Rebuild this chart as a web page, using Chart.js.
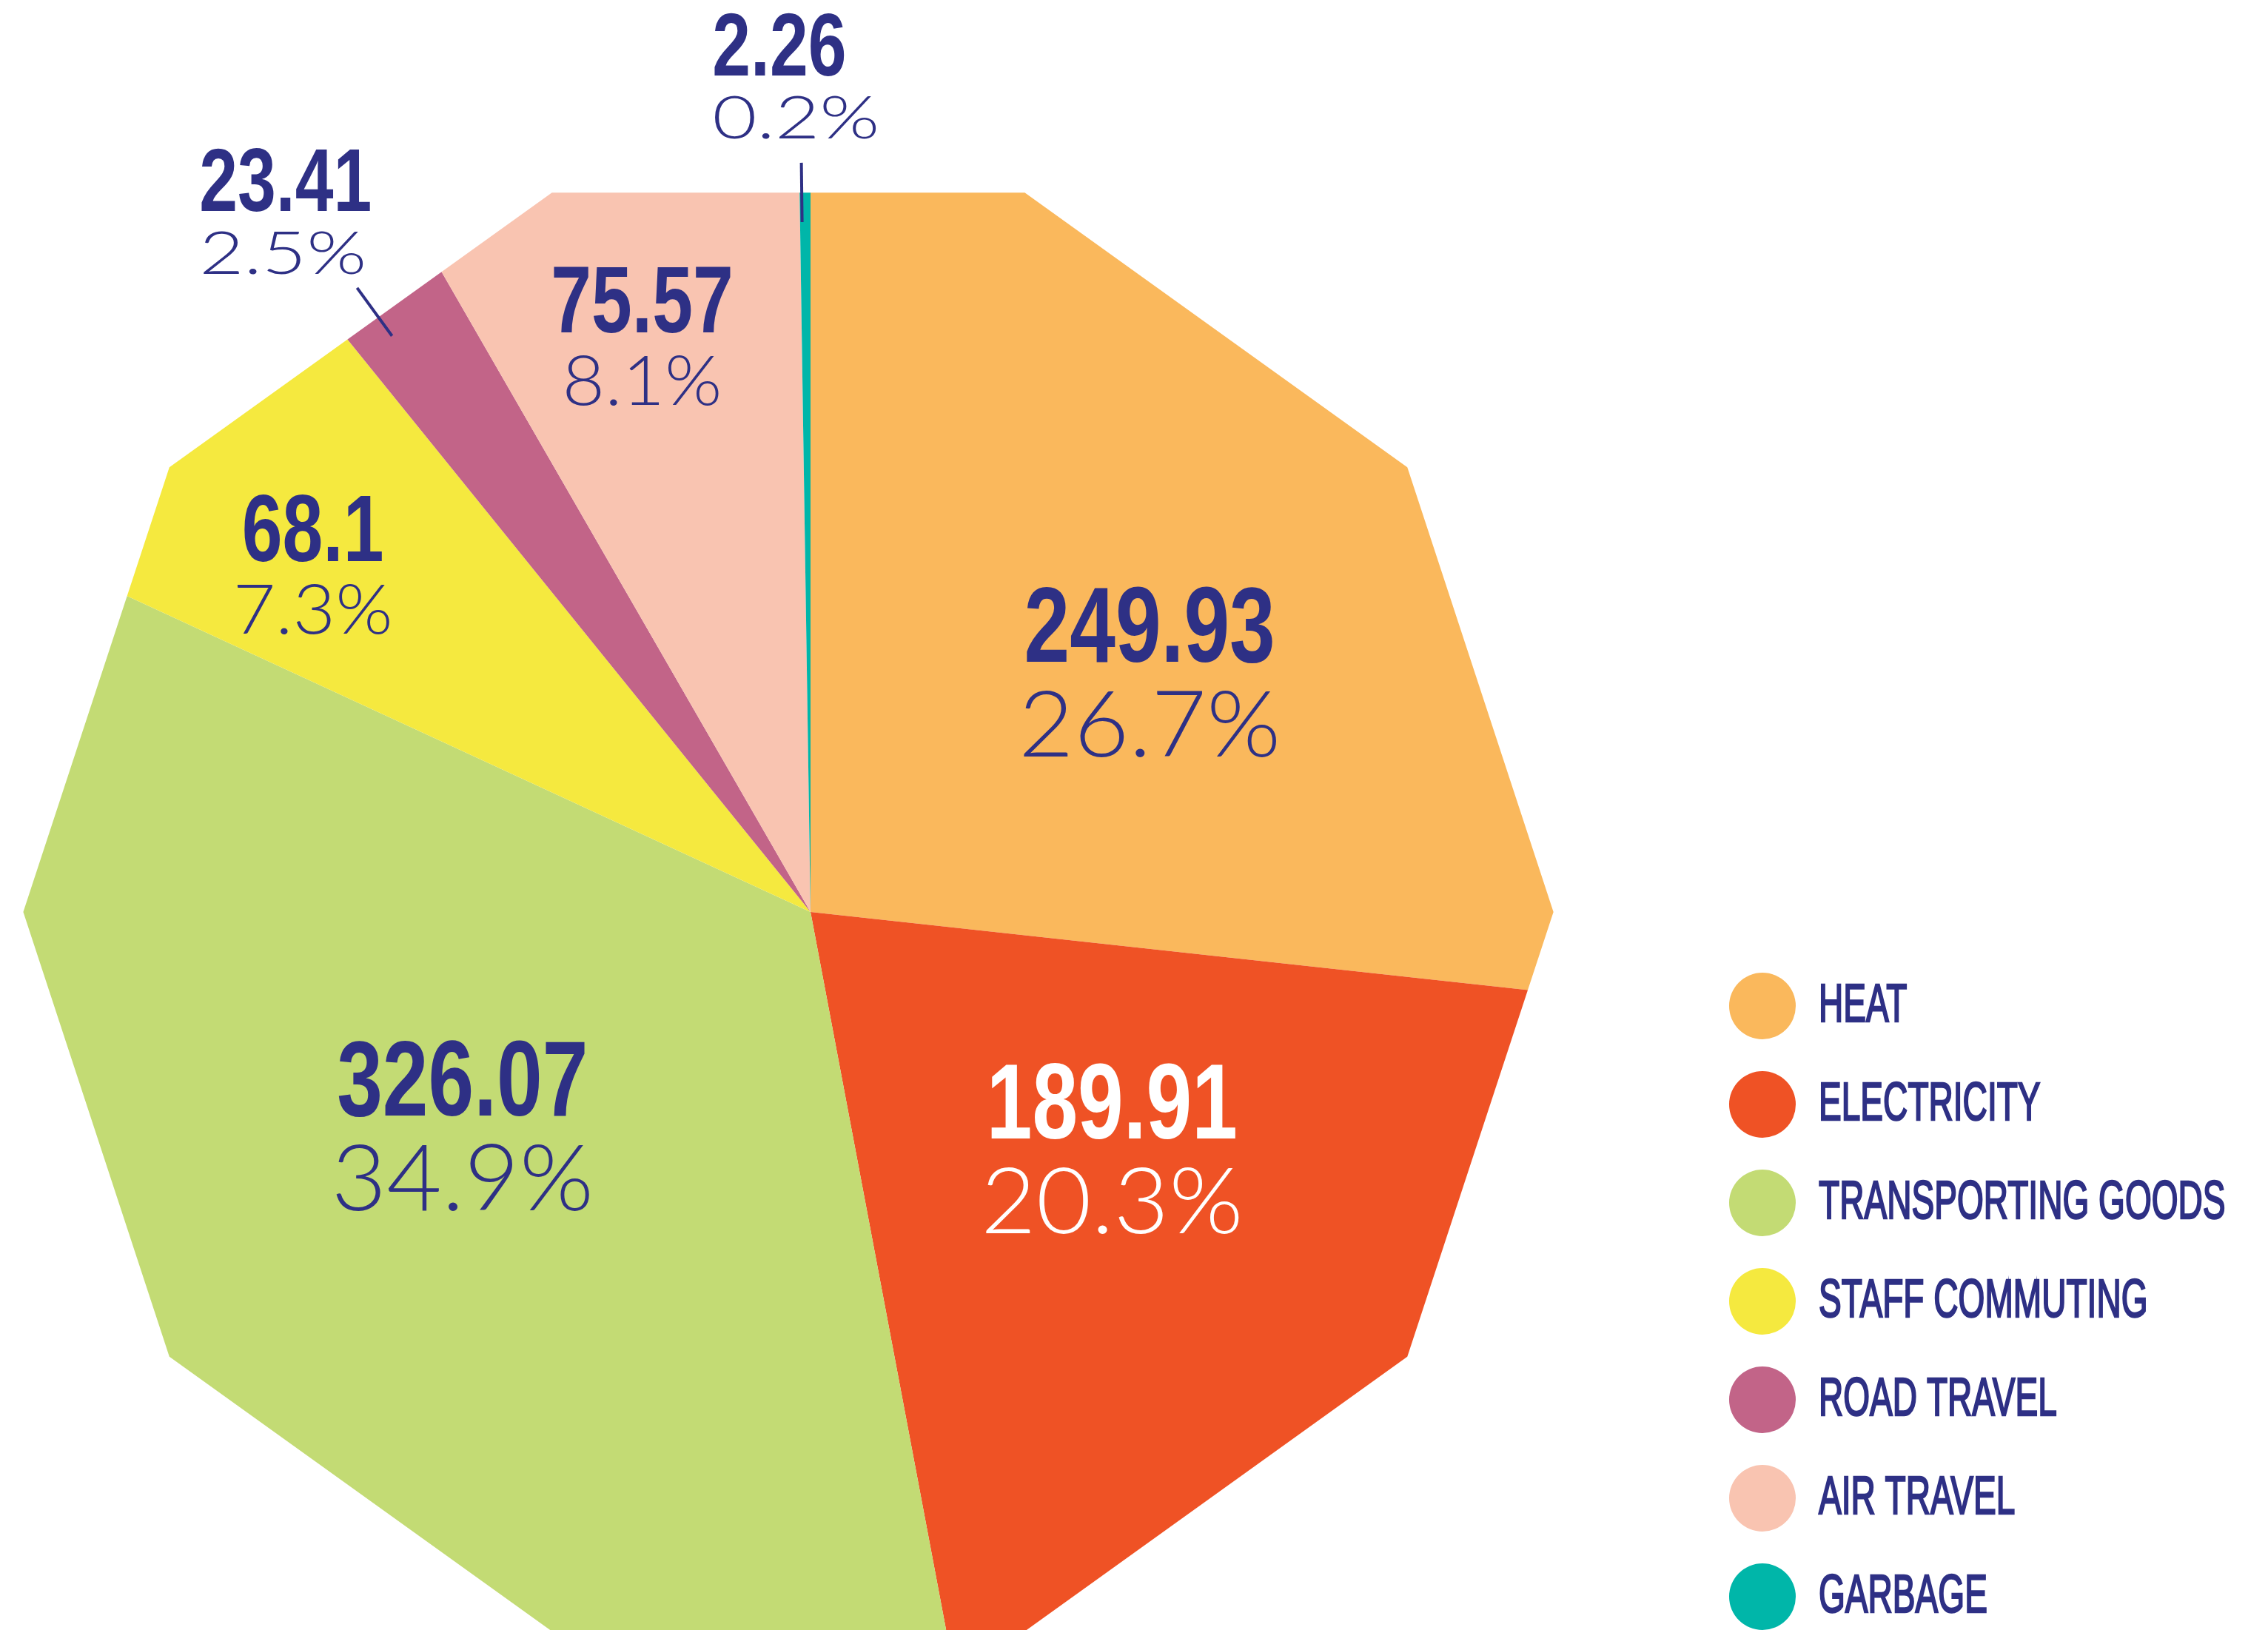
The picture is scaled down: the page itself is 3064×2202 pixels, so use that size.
<!DOCTYPE html>
<html>
<head>
<meta charset="utf-8">
<script src="https://cdn.jsdelivr.net/npm/chart.js@4/dist/chart.umd.min.js"></script>
<style>
  html, body { margin: 0; padding: 0; background: #fff; overflow: hidden; }
  #wrap { position: absolute; left: 0; top: 0; width: 3064px; height: 2302px; }
</style>
</head>
<body>
<div id="wrap"><canvas id="pieChart"></canvas></div>
<script>
// data
const categories = ['HEAT', 'ELECTRICITY', 'TRANSPORTING GOODS', 'STAFF COMMUTING', 'ROAD TRAVEL', 'AIR TRAVEL', 'GARBAGE'];
const emissions = [249.93, 189.91, 326.07, 68.1, 23.41, 75.57, 2.26];
const valueLabels = ['249.93', '189.91', '326.07', '68.1', '23.41', '75.57', '2.26'];

// styles
const colors = ['#FAB85C', '#EF5225', '#C3DB74', '#F5E93F', '#C26488', '#F9C4B1', '#00B6A9'];
const navy = '#2E3085';
const labelColors = [navy, '#FFFFFF', navy, navy, navy, navy, navy];
// label anchor: angle clockwise from 12 o'clock (deg), distance as a share of the pie radius
const labelAngle = [53.6, 126.9, 239.7, 305.2, 318.9, 343.8, 353.3];
const labelRadius = [0.532, 0.476, 0.509, 0.769, 1.174, 0.762, 1.063];
const labelAlign = ['center', 'center', 'center', 'center', 'left', 'center', 'left'];
const labelTier = ['L', 'L', 'L', 'M', 'S', 'M', 'S'];
const tiers = {
  L: { value: 144, pct: 125, gap: 128, pctScale: 1.03 },
  M: { value: 128, pct: 92, gap: 98, pctScale: 1.08 },
  S: { value: 121, pct: 80, gap: 85, pctScale: 1.3 }
};
// leader lines for the labels sitting outside the shape: [angle, from, to]
const leaders = { 4: [324, 0.899, 0.974], 6: [359.3, 0.871, 0.946] };

const total = emissions.reduce((a, b) => a + b, 0);

function drawText(ctx, text, x, y, font, sx, align, stroke) {
  ctx.save();
  ctx.font = font;
  const w = ctx.measureText(text).width * sx;
  const left = align === 'center' ? x - w / 2 : x;
  ctx.translate(left, y);
  ctx.scale(sx, 1);
  ctx.textAlign = 'left';
  ctx.textBaseline = 'alphabetic';
  ctx.fillText(text, 0, 0);
  if (stroke) {
    ctx.strokeStyle = ctx.fillStyle;
    ctx.lineWidth = stroke;
    ctx.strokeText(text, 0, 0);
  }
  ctx.restore();
}

// clip the pie to a ten sided shape
const decagonClip = {
  id: 'decagonClip',
  beforeDatasetsDraw(chart) {
    const arc = chart.getDatasetMeta(0).data[0];
    const R = arc.outerRadius;
    const cx = arc.x - 0.028 * R, cy = arc.y;
    const ctx = chart.ctx;
    ctx.save();
    ctx.beginPath();
    for (let i = 0; i < 10; i++) {
      const a = i * Math.PI / 5;
      const px = cx + 0.966 * R * Math.cos(a);
      const py = cy + 0.955 * R * Math.sin(a);
      if (i === 0) ctx.moveTo(px, py); else ctx.lineTo(px, py);
    }
    ctx.closePath();
    ctx.clip();
  },
  afterDatasetsDraw(chart) {
    chart.ctx.restore();
  }
};

const sliceLabels = {
  id: 'sliceLabels',
  afterDraw(chart) {
    const ctx = chart.ctx;
    const arcs = chart.getDatasetMeta(0).data;
    const cx = arcs[0].x, cy = arcs[0].y, R = arcs[0].outerRadius;

    emissions.forEach((v, i) => {
      const a = labelAngle[i] * Math.PI / 180;
      const x = cx + labelRadius[i] * R * Math.sin(a);
      const y = cy - labelRadius[i] * R * Math.cos(a);
      const t = tiers[labelTier[i]];
      ctx.fillStyle = labelColors[i];
      drawText(ctx, valueLabels[i], x, y, 'bold ' + t.value + 'px "Liberation Sans", Arial, sans-serif', 0.77, labelAlign[i]);
      const pct = (v / total * 100).toFixed(1) + '%';
      drawText(ctx, pct, x, y + t.gap, '300 ' + t.pct + 'px Lato, "Open Sans", sans-serif', t.pctScale, labelAlign[i]);
    });

    ctx.save();
    ctx.strokeStyle = navy;
    ctx.lineWidth = 4;
    Object.keys(leaders).forEach(k => {
      const [ang, r0, r1] = leaders[k];
      const a = ang * Math.PI / 180;
      ctx.beginPath();
      ctx.moveTo(cx + r0 * R * Math.sin(a), cy - r0 * R * Math.cos(a));
      ctx.lineTo(cx + r1 * R * Math.sin(a), cy - r1 * R * Math.cos(a));
      ctx.stroke();
    });
    ctx.restore();

    // legend
    categories.forEach((name, i) => {
      const ly = 1359 + i * 133;
      ctx.fillStyle = colors[i];
      ctx.beginPath();
      ctx.arc(2381, ly, 45, 0, Math.PI * 2);
      ctx.fill();
      ctx.fillStyle = navy;
      drawText(ctx, name, 2457, ly + 21, '72px "Liberation Sans", Arial, sans-serif', 0.64, 'left', 2.5);
    });
  }
};

new Chart(document.getElementById('pieChart'), {
  type: 'pie',
  data: {
    labels: categories,
    datasets: [{
      data: emissions,
      backgroundColor: colors,
      borderWidth: 0,
      hoverOffset: 0,
      offset: 0
    }]
  },
  options: {
    responsive: true,
    maintainAspectRatio: false,
    animation: false,
    layout: { padding: { left: 25, top: 162, right: 899, bottom: 0 } },
    plugins: {
      legend: { display: false },
      tooltip: { enabled: false }
    }
  },
  plugins: [decagonClip, sliceLabels]
});
</script>
</body>
</html>
